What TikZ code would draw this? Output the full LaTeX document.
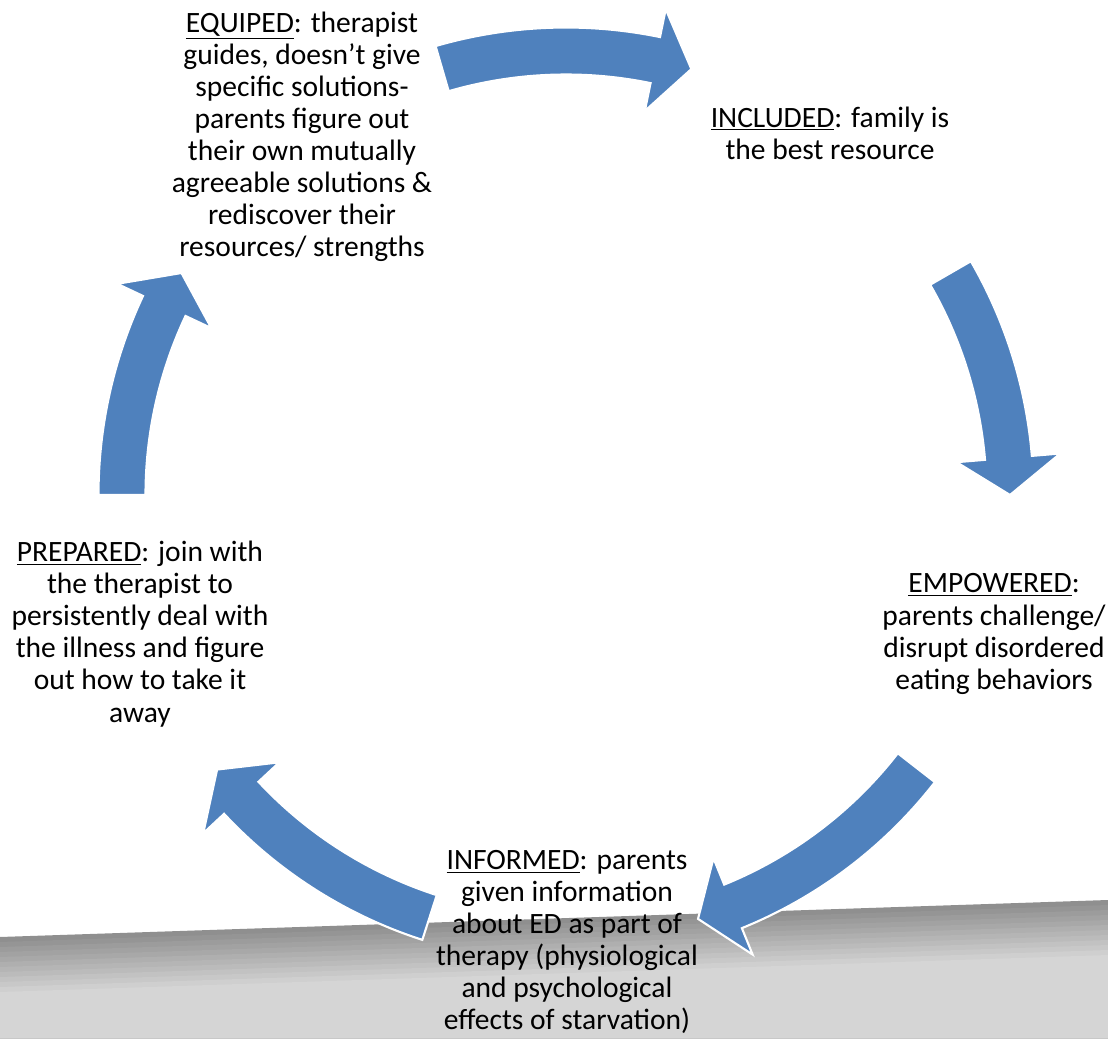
\documentclass[tikz,border=0pt]{standalone}
\usepackage{fontspec}
\setmainfont{Carlito}
\usetikzlibrary{positioning,calc}
\definecolor{arrowblue}{HTML}{4F81BD}
\newcommand{\cyclearrow}[2]{%
  \pgfmathsetmacro{\hdbase}{#2+4.8}
  \draw[cycarrow] (#1:467.5) arc[start angle=#1,end angle=\hdbase,radius=467.5]
    -- (\hdbase:496) -- (#2:444) -- (\hdbase:392) -- (\hdbase:420.5)
    arc[start angle=\hdbase,end angle=#1,radius=420.5] -- cycle;}

\begin{document}
\begin{tikzpicture}
[x=0.02cm,y=0.02cm,
cycarrow/.style={fill=arrowblue,draw=white,line width=1.2pt,line join=miter},
block/.style={align=center,inner sep=0pt,font=\fontsize{16.8}{18.25}\selectfont}]
\useasboundingbox (0,0) rectangle (1108,1038);
%%
\foreach \i in {0,...,11}{
  \pgfmathsetmacro{\shade}{44-2.5*\i}
  \fill[black!\shade] (0,101-5*\i) -- (1108,138-5*\i) -- (1108,0) -- (0,0) -- cycle;
}
%%
\coordinate (hub) at (566,543);
\begin{scope}[shift={(hub)}]
\cyclearrow{180}{150}
\cyclearrow{106.2}{73.6}
\cyclearrow{30}{0}
\cyclearrow{-37.9}{-72.7}
\cyclearrow{-107.9}{-141.8}
\end{scope}
%%
\node[block] (equiped) at (302,901) {\underline{EQUIPED}: therapist\\guides, doesn’t give\\specific solutions-\\parents figure out\\their own mutually\\agreeable solutions \&\\rediscover their\\resources/ strengths};
%%
\node[block] (included) at (830,905) {\underline{INCLUDED}: family is\\the best resource};
%%
\node[block] (empowered) at (994,404) {\underline{EMPOWERED}:\\parents challenge/\\disrupt disordered\\eating behaviors};
%%
\node[block] (informed) at (567,96) {\underline{INFORMED}: parents\\given information\\about ED as part of\\therapy (physiological\\and psychological\\effects of starvation)};
%%
\node[block] (prepared) at (140,404) {\underline{PREPARED}: join with\\the therapist to\\persistently deal with\\the illness and figure\\out how to take it\\away};
\end{tikzpicture}
\end{document}
